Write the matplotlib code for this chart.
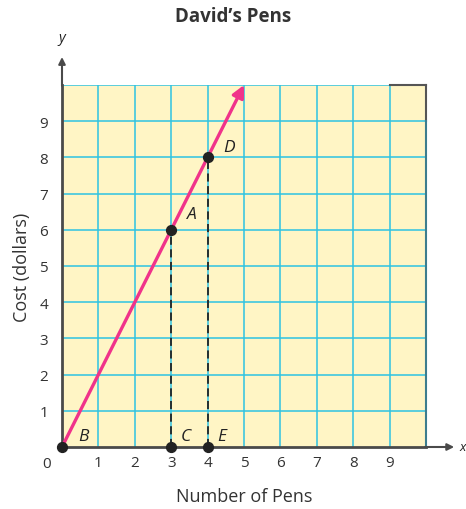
import matplotlib
matplotlib.use("Agg")
import matplotlib.pyplot as plt

# data
line_x = [0, 5]
line_y = [0, 10]
point_names = ["B", "A", "D", "C", "E"]
point_x = [0, 3, 4, 3, 4]
point_y = [0, 6, 8, 0, 0]
label_offsets = [(0.58, 0.3), (0.58, 0.44), (0.6, 0.3), (0.39, 0.3), (0.4, 0.3)]
dashed_x = [3, 4]
dashed_top = [6, 8]
x_ticks = [1, 2, 3, 4, 5, 6, 7, 8, 9]
y_ticks = [1, 2, 3, 4, 5, 6, 7, 8, 9]

plt.rcParams['font.family'] = ['Open Sans', 'DejaVu Sans']

fig = plt.figure(figsize=(4.66, 5.10), dpi=100)
ax = fig.add_axes([62/466, 62/510, 364/466, 362/510])
ax.set_xlim(0, 10)
ax.set_ylim(0, 10)

bg = "#FFF5C5"
grid_c = "#2EC3E2"
dark = "#4a4a4a"
ax.set_facecolor(bg)

for v in range(1, 11):
    ax.axvline(v, color=grid_c, lw=1.1, zorder=1)
    ax.axhline(v, color=grid_c, lw=1.1, zorder=1)
# top-right dark frame piece
ax.plot([9, 10], [10, 10], color="#555555", lw=1.5, zorder=2, clip_on=False)
ax.plot([10, 10], [9, 10], color="#555555", lw=1.5, zorder=2, clip_on=False)
ax.plot([10, 10], [0, 9], color="#3d7d8e", lw=1.5, zorder=2, clip_on=False)

for s in ["top", "right"]:
    ax.spines[s].set_visible(False)
for s in ["left", "bottom"]:
    ax.spines[s].set_color(dark)
    ax.spines[s].set_linewidth(2)
    ax.spines[s].set_zorder(3)

# axis arrows
ax.annotate("", xy=(10.85, 0), xytext=(9.9, 0), xycoords="data",
            arrowprops=dict(arrowstyle="-|>", color=dark, lw=1.5, mutation_scale=10),
            annotation_clip=False)
ax.annotate("", xy=(0, 10.85), xytext=(0, 9.9), xycoords="data",
            arrowprops=dict(arrowstyle="-|>", color=dark, lw=1.5, mutation_scale=10),
            annotation_clip=False)
ax.text(10.92, 0, "x", style="italic", fontsize=9.5, va="center", ha="left", color="#222222")
ax.text(0, 11.1, "y", style="italic", fontsize=10.5, va="bottom", ha="center", color="#222222")

ax.set_xticks(x_ticks)
ax.set_yticks(y_ticks)
ax.tick_params(length=0, labelsize=11, colors="#333333")
ax.tick_params(axis="x", pad=6)
ax.tick_params(axis="y", pad=10)
ax.text(-0.42, -0.45, "0", fontsize=11, ha="center", va="center", color="#333333")

# dashed lines
for dx, dt in zip(dashed_x, dashed_top):
    ax.plot([dx, dx], [0, dt], color="#222222", lw=1.3, ls=(0, (4.5, 2.5)), zorder=4)

# main line with arrow
ax.annotate("", xy=(line_x[1], line_y[1]), xytext=(line_x[0], line_y[0]),
            arrowprops=dict(arrowstyle="-|>", color="#F0338A", lw=2.4, mutation_scale=18,
                            shrinkA=0, shrinkB=0),
            zorder=5, annotation_clip=False)

ax.scatter(point_x, point_y, s=50, color="#222222", zorder=6, clip_on=False)
for n, px, py, (ox, oy) in zip(point_names, point_x, point_y, label_offsets):
    ax.text(px + ox, py + oy, n, style="italic", fontsize=12.5, ha="center", va="center",
            color="#222222", zorder=7)

ax.set_xlabel("Number of Pens", fontsize=13, labelpad=12, color="#333333")
ax.set_ylabel("Cost (dollars)", fontsize=13, labelpad=6, color="#333333")
fig.text(0.5, 0.967, "David\u2019s Pens", fontsize=13.5, fontweight="bold", ha="center",
         va="center", color="#333333")

fig.savefig("out.png", dpi=100)
